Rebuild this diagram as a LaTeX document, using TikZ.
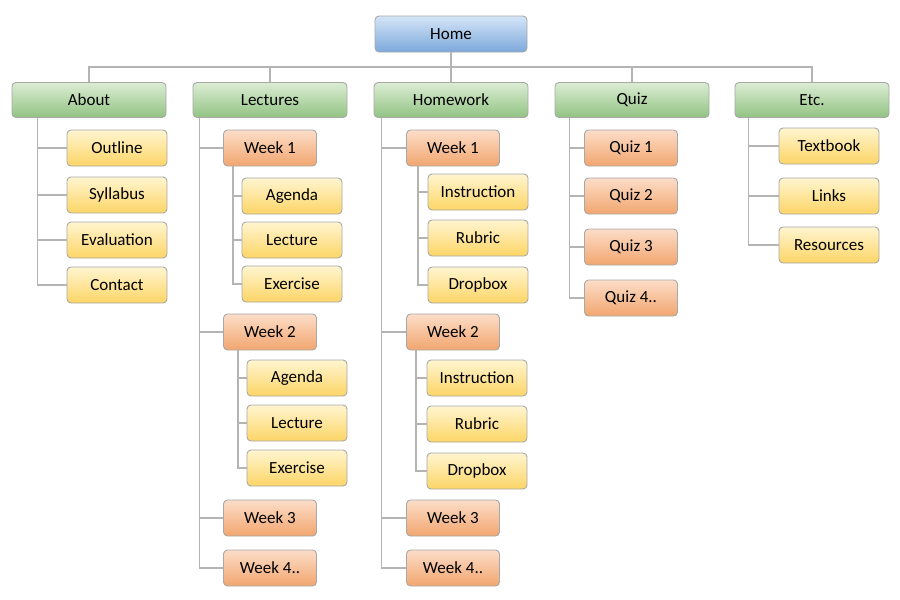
\documentclass[tikz,border=0pt]{standalone}
\usepackage{fontspec}
\setmainfont{Carlito}
\definecolor{boxline}{HTML}{A8A8A8}
\definecolor{connline}{HTML}{B4B4B4}
\definecolor{bluetop}{HTML}{D4E5F7}
\definecolor{bluebot}{HTML}{7DA9DB}
\definecolor{greentop}{HTML}{DBEDD3}
\definecolor{greenbot}{HTML}{92C383}
\definecolor{orangetop}{HTML}{FCDDC8}
\definecolor{orangebot}{HTML}{F2A66F}
\definecolor{yellowtop}{HTML}{FFF5D0}
\definecolor{yellowbot}{HTML}{FCD566}
\begin{document}
\begin{tikzpicture}[x=1pt,y=1pt,
		box/.style={draw=boxline, line width=0.9pt, rounded corners=4pt, inner sep=0pt, minimum height=36pt, font=\fontsize{17}{19}\selectfont},
		homebox/.style={box, minimum width=152pt, top color=bluetop, bottom color=bluebot},
		secbox/.style={box, minimum width=154pt, minimum height=35pt, top color=greentop, bottom color=greenbot},
		weekbox/.style={box, minimum width=93pt, top color=orangetop, bottom color=orangebot},
		itembox/.style={box, minimum width=100pt, top color=yellowtop, bottom color=yellowbot},
		conn/.style={draw=connline, line width=1.2pt}]
		\useasboundingbox (0,0) rectangle (900,-600);
		% top
		\node[homebox] (home) at (451,-34) {Home};
		\coordinate (bus) at (451,-67);
		\node[secbox] (about) at (89,-100) {About};
		\node[secbox] (lectures) at (270,-100) {Lectures};
		\node[secbox] (homework) at (451,-100) {Homework};
		\node[secbox] (quiz) at (632,-100) {Quiz};
		\node[secbox] (etc) at (812,-100) {Etc.};
		\draw[conn] (home) -- (bus);
		\draw[conn] (about.north) |- (bus) -| (etc.north);
		\foreach \s in {lectures,homework,quiz}
			\draw[conn] (\s.north) -- (\s.north |- bus);
		% about
		\node[itembox] (outline) at (117,-148) {Outline};
		\node[itembox] (syllabus) at (117,-195) {Syllabus};
		\node[itembox] (evaluation) at (117,-240) {Evaluation};
		\node[itembox] (contact) at (117,-285) {Contact};
		\foreach \c in {outline,syllabus,evaluation,contact}
			\draw[conn] ([xshift=26pt]about.south west) |- (\c.west);
		% lectures
		\node[weekbox] (lweek1) at (270,-148) {Week 1};
		\node[itembox] (lagenda1) at (292,-196) {Agenda};
		\node[itembox] (llecture1) at (292,-240) {Lecture};
		\node[itembox] (lexercise1) at (292,-284) {Exercise};
		\node[weekbox] (lweek2) at (270,-332) {Week 2};
		\node[itembox] (lagenda2) at (297,-378) {Agenda};
		\node[itembox] (llecture2) at (297,-423) {Lecture};
		\node[itembox] (lexercise2) at (297,-468) {Exercise};
		\node[weekbox] (lweek3) at (270,-518) {Week 3};
		\node[weekbox] (lweek4) at (270,-568) {Week 4..};
		\foreach \c in {lweek1,lweek2,lweek3,lweek4}
			\draw[conn] ([xshift=7pt]lectures.south west) |- (\c.west);
		\foreach \c in {lagenda1,llecture1,lexercise1}
			\draw[conn] ([xshift=10pt]lweek1.south west) |- (\c.west);
		\foreach \c in {lagenda2,llecture2,lexercise2}
			\draw[conn] ([xshift=15pt]lweek2.south west) |- (\c.west);
		% homework
		\node[weekbox] (hweek1) at (453,-148) {Week 1};
		\node[itembox] (hinstr1) at (478,-192) {Instruction};
		\node[itembox] (hrubric1) at (478,-238) {Rubric};
		\node[itembox] (hdrop1) at (478,-285) {Dropbox};
		\node[weekbox] (hweek2) at (453,-332) {Week 2};
		\node[itembox] (hinstr2) at (477,-378) {Instruction};
		\node[itembox] (hrubric2) at (477,-424) {Rubric};
		\node[itembox] (hdrop2) at (477,-471) {Dropbox};
		\node[weekbox] (hweek3) at (453,-518) {Week 3};
		\node[weekbox] (hweek4) at (453,-568) {Week 4..};
		\foreach \c in {hweek1,hweek2,hweek3,hweek4}
			\draw[conn] ([xshift=8pt]homework.south west) |- (\c.west);
		\foreach \c in {hinstr1,hrubric1,hdrop1}
			\draw[conn] ([xshift=12pt]hweek1.south west) |- (\c.west);
		\foreach \c in {hinstr2,hrubric2,hdrop2}
			\draw[conn] ([xshift=10pt]hweek2.south west) |- (\c.west);
		% quiz
		\node[weekbox] (quiz1) at (631,-148) {Quiz 1};
		\node[weekbox] (quiz2) at (631,-196) {Quiz 2};
		\node[weekbox] (quiz3) at (631,-247) {Quiz 3};
		\node[weekbox] (quiz4) at (631,-298) {Quiz 4..};
		\foreach \c in {quiz1,quiz2,quiz3,quiz4}
			\draw[conn] ([xshift=15pt]quiz.south west) |- (\c.west);
		% etc
		\node[itembox] (textbook) at (829,-146) {Textbook};
		\node[itembox] (links) at (829,-196) {Links};
		\node[itembox] (resources) at (829,-245) {Resources};
		\foreach \c in {textbook,links,resources}
			\draw[conn] ([xshift=14pt]etc.south west) |- (\c.west);
\end{tikzpicture}
\end{document}
